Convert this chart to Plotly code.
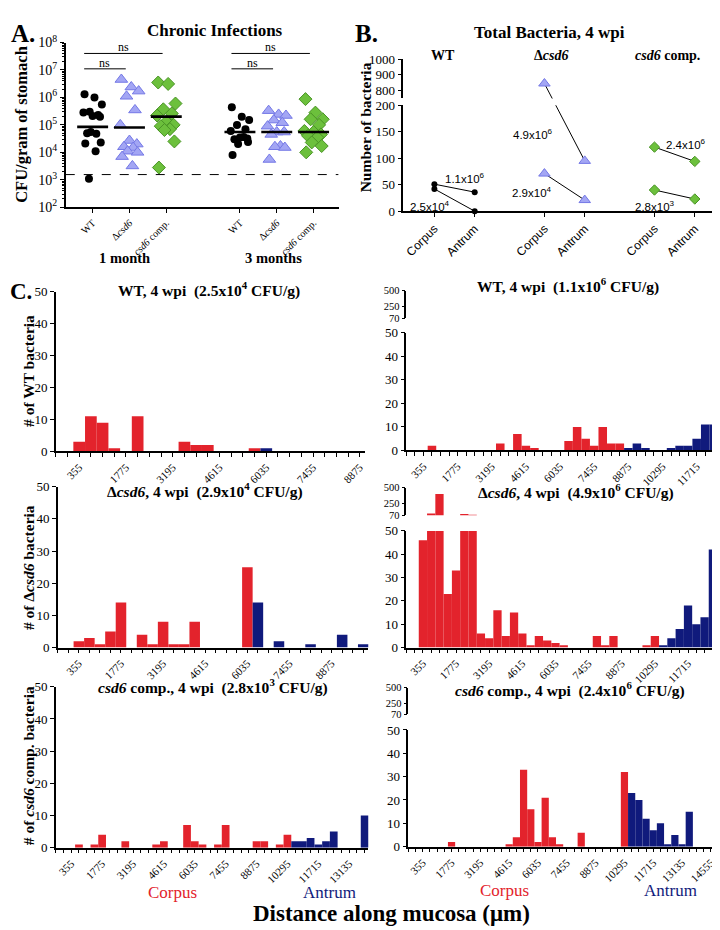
import math
import plotly.graph_objects as go

W, H = 720, 930
SERIF = "Liberation Serif"
SANS = "Liberation Sans"
RED = "#E3232C"
NAVY = "#101A7C"
TRI_FILL = "#A3A6F4"
TRI_EDGE = "#7478E6"
DIA_FILL = "#6CC03C"
DIA_EDGE = "#4A9426"

# ---------------- data: panel A (CFU / gram of stomach) ----------------
a_ticktext = ["WT", "Δ<i>csd6</i>", "<i>csd6</i> comp.", "WT", "Δ<i>csd6</i>", "<i>csd6</i> comp."]
a_wt_1m = [1.3e6, 1.0e6, 5.5e5, 3.0e5, 2.3e5, 2.8e5, 2.1e5, 2.0e5, 5.0e4, 4.8e4, 5.5e4, 2.3e4, 2.1e4, 1.1e4, 1.1e3]
a_del_1m = [4.5e6, 2.4e6, 1.7e6, 1.1e6, 3.5e5, 1.0e5, 2.7e4, 2.0e4, 1.6e4, 1.5e4, 1.1e4, 1.0e4, 7.0e3, 3.2e3]
a_comp_1m = [3.5e6, 3.1e6, 6.0e5, 3.7e5, 2.6e5, 2.2e5, 1.3e5, 1.0e5, 9.0e4, 7.0e4, 6.5e4, 2.5e4, 2.8e3]
a_wt_3m = [4.4e5, 2.0e5, 1.5e5, 1.0e5, 7.0e4, 6.0e4, 3.5e4, 3.2e4, 3.0e4, 3.6e4, 2.0e4, 2.4e4, 8.0e3]
a_del_3m = [3.3e5, 2.4e5, 2.2e5, 1.5e5, 1.2e5, 9.0e4, 5.5e4, 5.5e4, 4.5e4, 1.7e4, 1.6e4, 1.5e4, 5.5e3]
a_comp_3m = [8.7e5, 2.8e5, 1.6e5, 1.6e5, 1.0e5, 6.0e4, 5.5e4, 4.5e4, 4.0e4, 3.5e4, 2.3e4, 1.7e4, 1.0e4]
a_means = [8.5e4, 8.0e4, 2.0e5, 5.5e4, 5.5e4, 5.5e4]
a_detection_limit = 1.55e3
a_exponents = [2, 3, 4, 5, 6, 7, 8]
a_ns_pairs = [(0, 1), (0, 2), (3, 4), (3, 5)]
a_ns_levels = [1.1e7, 4.0e7, 1.1e7, 4.0e7]

# ---------------- data: panel B (number of bacteria) ----------------
b_sites = ["Corpus", "Antrum"]
b_strains = ["WT", "Δ<i>csd6</i>", "<i>csd6</i> comp."]
b_wt_high = [51, 36]
b_wt_low = [42, 0]
b_del_high = [845, 95]
b_del_low = [71, 21]
b_comp_high = [121, 94]
b_comp_low = [40, 23]
b_cfu_high = ["1.1x10<sup>6</sup>", "4.9x10<sup>6</sup>", "2.4x10<sup>6</sup>"]
b_cfu_low = ["2.5x10<sup>4</sup>", "2.9x10<sup>4</sup>", "2.8x10<sup>3</sup>"]
b_lower_ticks = [0, 50, 100, 150, 200]
b_upper_ticks = [800, 900, 1000]

# ---------------- data: panel C (bacteria per 355 um bin, bins 1..n) ----------------
c_bin_um = 355
c_wt_low = [3, 11, 9, 1, 0, 11, 0, 0, 0, 3, 2, 2, 0, 0, 0, 1, 1]
c_wt_high = [0, 2, 0, 0, 0, 0, 0, 0, 0, 3, 0, 7, 2, 1, 0, 0, 0, 4, 10, 5, 2, 10, 3, 3,
             1, 3, 1, 0, 0, 1, 2, 2, 5, 11, 11]
c_del_low = [2, 3, 1, 5, 14, 0, 4, 1, 8, 1, 1, 8, 0, 0, 0, 0, 25, 14, 0, 2, 0, 0, 1, 0, 0, 4, 0, 1]
c_del_high = [46, 95, 400, 23, 33, 90, 75, 6, 4, 16, 5, 15, 6, 1, 5, 3, 2, 1, 0, 0, 0, 5, 1, 5,
              0, 0, 0, 1, 5, 1, 4, 8, 18, 10, 13, 42]
c_comp_low = [0, 1, 0, 1, 4, 0, 0, 2, 0, 0, 0, 1, 2, 0, 0, 7, 2, 1, 0, 1, 7, 0, 0, 0, 2, 2, 0, 1, 4,
              2, 2, 3, 1, 2, 5, 0, 0, 0, 10]
c_comp_high = [0, 0, 0, 0, 2, 0, 0, 0, 0, 0, 0, 0, 1, 4, 33, 16, 2, 21, 4, 1, 0, 0, 6, 0, 0, 0, 0, 0,
               32, 23, 20, 12, 7, 10, 1, 5, 1, 15]
# first antrum bin of each stomach
c_first_antrum = {"wt_low": 17, "wt_high": 25, "del_low": 18, "del_high": 30, "comp_low": 30, "comp_high": 30}
c_lower_ticks = [0, 10, 20, 30, 40, 50]
c_upper_ticks = [70, 250, 500]


# ---------------- helpers ----------------
def dx(a, b):
    return [a / W, b / W]


def dy(top, bottom):
    return [1 - bottom / H, 1 - top / H]


AX = dict(showline=True, linecolor="black", linewidth=1.6, ticks="outside", ticklen=4,
          tickwidth=1.4, tickcolor="black", showgrid=False, zeroline=False, fixedrange=True,
          tickfont=dict(family=SERIF, size=13, color="black"))

fig = go.Figure()
layout = {}
annotations = []


def ann(text, x, y, size, color="black", family=SERIF, angle=0, xanchor="center", yanchor="middle"):
    annotations.append(dict(text=text, x=x / W, y=1 - y / H, xref="paper", yref="paper",
                            showarrow=False, textangle=angle, xanchor=xanchor, yanchor=yanchor,
                            font=dict(family=family, size=size, color=color)))


# ================= Panel A =================
a_pos = [0, 1, 2, 4, 5, 6]
a_xr = [-0.73, 6.68]
layout["xaxis"] = dict(AX, domain=dx(58, 332), range=a_xr, anchor="y", tickvals=a_pos,
                       ticktext=a_ticktext, tickangle=-45,
                       tickfont=dict(family=SERIF, size=10, color="black"))
layout["yaxis"] = dict(AX, domain=dy(25, 193), type="log", range=[2, 8], anchor="x",
                       tickvals=[10 ** e for e in a_exponents],
                       ticktext=[f"10<sup>{e}</sup>" for e in a_exponents],
                       tickfont=dict(family=SERIF, size=14, color="black"),
                       minor=dict(tickvals=[m * 10 ** e for e in a_exponents[:-1] for m in range(2, 10)],
                                  ticks="outside", ticklen=2, tickwidth=1, tickcolor="black", showgrid=False))

jitter = [-0.22, 0.05, 0.25, -0.08, 0.15, -0.25, 0.0, 0.2, -0.15, 0.1, -0.05, 0.22, -0.2, 0.08, -0.1]
a_series = [a_wt_1m, a_del_1m, a_comp_1m, a_wt_3m, a_del_3m, a_comp_3m]
a_style = [
    dict(symbol="circle", size=8, color="black", line=dict(width=0)),
    dict(symbol="triangle-up", size=11, color=TRI_FILL, line=dict(width=1, color=TRI_EDGE)),
    dict(symbol="diamond", size=10, color=DIA_FILL, line=dict(width=1, color=DIA_EDGE)),
]
for i, vals in enumerate(a_series):
    fig.add_trace(go.Scatter(x=[a_pos[i] + jitter[j % len(jitter)] for j in range(len(vals))], y=vals,
                             mode="markers", marker=a_style[i % 3], xaxis="x", yaxis="y",
                             showlegend=False, hoverinfo="skip"))
    fig.add_trace(go.Scatter(x=[a_pos[i] - 0.42, a_pos[i] + 0.42], y=[a_means[i]] * 2, mode="lines",
                             line=dict(color="black", width=2.6), xaxis="x", yaxis="y",
                             showlegend=False, hoverinfo="skip"))
fig.add_trace(go.Scatter(x=a_xr, y=[a_detection_limit] * 2, mode="lines",
                         line=dict(color="black", width=1, dash="dash"), xaxis="x", yaxis="y",
                         showlegend=False, hoverinfo="skip"))
for (i, j), lev in zip(a_ns_pairs, a_ns_levels):
    x0, x1 = a_pos[i] - 0.23, a_pos[j] - 0.1
    fig.add_trace(go.Scatter(x=[x0, x1], y=[lev, lev], mode="lines", line=dict(color="black", width=1),
                             xaxis="x", yaxis="y", showlegend=False, hoverinfo="skip"))
    annotations.append(dict(text="ns", x=(x0 + x1) / 2, y=math.log10(lev), xref="x", yref="y",
                            showarrow=False, yanchor="bottom", yshift=-3,
                            font=dict(family=SERIF, size=12, color="black")))

ann("<b>A.</b>", 1, 16, 25, xanchor="left")
ann("<b>Chronic Infections</b>", 208, 13, 17)
ann("<b>CFU/gram of stomach</b>", 14, 108, 16.5, angle=-90)
ann("<b>1 month</b>", 117, 245, 14.5)
ann("<b>3 months</b>", 267, 245, 14.5)

# ================= Panel B =================
b_pos = [g * 2.73 + s for g in range(3) for s in range(2)]
b_ld = dy(89, 197)
b_ud = dy(42, 82)
B_LR = [0, 200]
B_UR = [750, 1000]
layout["xaxis2"] = dict(AX, domain=dx(397, 718), range=[-0.77, 7.16], anchor="y2", tickvals=b_pos,
                        ticktext=b_sites * 3, tickangle=-45,
                        tickfont=dict(family=SANS, size=12, color="black"))
layout["yaxis2"] = dict(AX, domain=b_ld, range=B_LR, anchor="x2", tickvals=b_lower_ticks)
layout["yaxis3"] = dict(AX, domain=b_ud, range=B_UR, anchor="x2", tickvals=b_upper_ticks)


def b_frac(v):
    if v <= B_LR[1]:
        return b_ld[0] + (v - B_LR[0]) / (B_LR[1] - B_LR[0]) * (b_ld[1] - b_ld[0])
    return b_ud[0] + (v - B_UR[0]) / (B_UR[1] - B_UR[0]) * (b_ud[1] - b_ud[0])


def to_lower(v):
    return B_LR[0] + (b_frac(v) - b_ld[0]) / (b_ld[1] - b_ld[0]) * (B_LR[1] - B_LR[0])


def to_upper(v):
    return B_UR[0] + (b_frac(v) - b_ud[0]) / (b_ud[1] - b_ud[0]) * (B_UR[1] - B_UR[0])


b_style = [
    dict(symbol="circle", size=6, color="black"),
    dict(symbol="triangle-up", size=10, color=TRI_FILL, line=dict(width=1, color=TRI_EDGE)),
    dict(symbol="diamond", size=8, color=DIA_FILL, line=dict(width=1, color=DIA_EDGE)),
]
b_series = [(b_wt_high, b_wt_low), (b_del_high, b_del_low), (b_comp_high, b_comp_low)]
for g, pair in enumerate(b_series):
    xs = [b_pos[2 * g], b_pos[2 * g + 1]]
    for vals in pair:
        fig.add_trace(go.Scatter(x=xs, y=[to_lower(v) for v in vals], mode="lines",
                                 line=dict(color="black", width=1), xaxis="x2", yaxis="y2",
                                 showlegend=False, hoverinfo="skip"))
        if max(vals) > B_LR[1]:
            fig.add_trace(go.Scatter(x=xs, y=[to_upper(v) for v in vals], mode="lines",
                                     line=dict(color="black", width=1), xaxis="x2", yaxis="y3",
                                     showlegend=False, hoverinfo="skip"))
        lo = [(x, v) for x, v in zip(xs, vals) if v <= B_LR[1]]
        hi = [(x, v) for x, v in zip(xs, vals) if v > B_LR[1]]
        if lo:
            fig.add_trace(go.Scatter(x=[p[0] for p in lo], y=[p[1] for p in lo], mode="markers",
                                     marker=b_style[g], cliponaxis=False, xaxis="x2", yaxis="y2",
                                     showlegend=False, hoverinfo="skip"))
        if hi:
            fig.add_trace(go.Scatter(x=[p[0] for p in hi], y=[p[1] for p in hi], mode="markers",
                                     marker=b_style[g], cliponaxis=False, xaxis="x2", yaxis="y3",
                                     showlegend=False, hoverinfo="skip"))

b_label_pos_high = [(0.77, 62), (2.45, 146), (6.25, 127)]
b_label_pos_low = [(-0.1, 9), (2.42, 36), (5.48, 9)]
for txt, (x, y) in zip(b_cfu_high + b_cfu_low, b_label_pos_high + b_label_pos_low):
    annotations.append(dict(text=txt, x=x, y=y, xref="x2", yref="y2", showarrow=False,
                            font=dict(family=SANS, size=11.5, color="black")))

ann("<b>B.</b>", 346, 16, 25, xanchor="left")
ann("<b>Total Bacteria, 4 wpi</b>", 544, 15, 17)
ann("<b>Number of bacteria</b>", 359, 112, 15.5, angle=-90)
for txt, x in zip(b_strains, [437, 545, 662]):
    ann(f"<b>{txt}</b>", x, 38, 14)

# ================= Panel C =================
c_panels = [
    dict(counts=c_wt_low, key="wt_low", kr=(-1.0, 25.4), xd=(48, 358), yd=(279, 442), ud=None,
         title="WT, 4 wpi\u00a0 (2.5x10<sup>4</sup> CFU/g)", tp=(202, 277)),
    dict(counts=c_wt_high, key="wt_high", kr=(-1.0, 35.5), xd=(400, 713), yd=(321, 441), ud=(278, 306),
         title="WT, 4 wpi\u00a0 (1.1x10<sup>6</sup> CFU/g)", tp=(562, 273)),
    dict(counts=c_del_low, key="del_low", kr=(-1.0, 28.5), xd=(50, 362), yd=(478, 642), ud=None,
         title="Δ<i>csd6</i>, 4 wpi\u00a0 (2.9x10<sup>4</sup> CFU/g)", tp=(198, 482)),
    dict(counts=c_del_high, key="del_high", kr=(-1.0, 36.5), xd=(400, 712), yd=(523, 642), ud=(479, 507),
         title="Δ<i>csd6</i>, 4 wpi\u00a0 (4.9x10<sup>6</sup> CFU/g)", tp=(570, 483)),
    dict(counts=c_comp_low, key="comp_low", kr=(-1.0, 39.5), xd=(48, 362), yd=(682, 846), ud=None,
         title="<i>csd6</i> comp., 4 wpi\u00a0 (2.8x10<sup>3</sup> CFU/g)", tp=(206, 682)),
    dict(counts=c_comp_high, key="comp_high", kr=(-1.0, 41.3), xd=(402, 708), yd=(726, 845), ud=(683, 710),
         title="<i>csd6</i> comp., 4 wpi\u00a0 (2.4x10<sup>6</sup> CFU/g)", tp=(564, 685)),
]

xn, yn = 3, 4
for p in c_panels:
    xr, yr = f"x{xn}", f"y{yn}"
    kmax = int(math.floor(p["kr"][1]))
    ks = list(range(-1, kmax + 1))
    layout[f"xaxis{xn}"] = dict(AX, domain=dx(*p["xd"]), range=[c_bin_um * p["kr"][0], c_bin_um * p["kr"][1]],
                                anchor=yr, tickvals=[c_bin_um * k for k in ks],
                                ticktext=[str(c_bin_um * k) if (k >= 1 and k % 4 == 1) else "" for k in ks],
                                tickangle=-45, ticklen=3.5,
                                tickfont=dict(family=SERIF, size=11, color="black"))
    layout[f"yaxis{yn}"] = dict(AX, domain=dy(*p["yd"]), range=[0, 50], anchor=xr, tickvals=c_lower_ticks)
    bins = list(range(1, len(p["counts"]) + 1))
    split = c_first_antrum[p["key"]]
    colors = [RED if b < split else NAVY for b in bins]
    xs = [c_bin_um * b for b in bins]
    fig.add_trace(go.Bar(x=xs, y=p["counts"], width=c_bin_um, marker=dict(color=colors, line=dict(width=0)),
                         xaxis=xr, yaxis=yr, showlegend=False, hoverinfo="skip"))
    if p["ud"] is not None:
        yu = f"y{yn + 1}"
        layout[f"yaxis{yn + 1}"] = dict(AX, domain=dy(*p["ud"]), range=[70, 500], anchor=xr,
                                        tickvals=c_upper_ticks, ticklen=3,
                                        tickfont=dict(family=SERIF, size=10.5, color="black"))
        fig.add_trace(go.Bar(x=xs, y=p["counts"], width=c_bin_um, marker=dict(color=colors, line=dict(width=0)),
                             xaxis=xr, yaxis=yu, showlegend=False, hoverinfo="skip"))
        yn += 1
    ann(f"<b>{p['title']}</b>", p["tp"][0], p["tp"][1], 15.5)
    xn += 1
    yn += 1

ann("<b>C.</b>", 0, 279, 23, xanchor="left")
ann("<b># of WT bacteria</b>", 20, 360, 15.5, angle=-90)
ann("<b># of Δ<i>csd6</i> bacteria</b>", 20, 560, 15.5, angle=-90)
ann("<b># of <i>csd6</i> comp. bacteria</b>", 20, 762, 15.5, angle=-90)
ann("Corpus", 165, 892, 17, color=RED)
ann("Antrum", 323, 892, 17, color=NAVY)
ann("Corpus", 499, 890, 17, color=RED)
ann("Antrum", 665, 890, 17, color=NAVY)
ann("<b>Distance along mucosa (μm)</b>", 385, 913, 23)

fig.update_layout(**layout)
fig.update_layout(width=W, height=H, margin=dict(l=0, r=0, t=0, b=0), paper_bgcolor="white",
                  plot_bgcolor="rgba(0,0,0,0)", barmode="overlay", showlegend=False,
                  annotations=annotations, font=dict(family=SERIF, color="black"))
fig.write_html("out.html")
